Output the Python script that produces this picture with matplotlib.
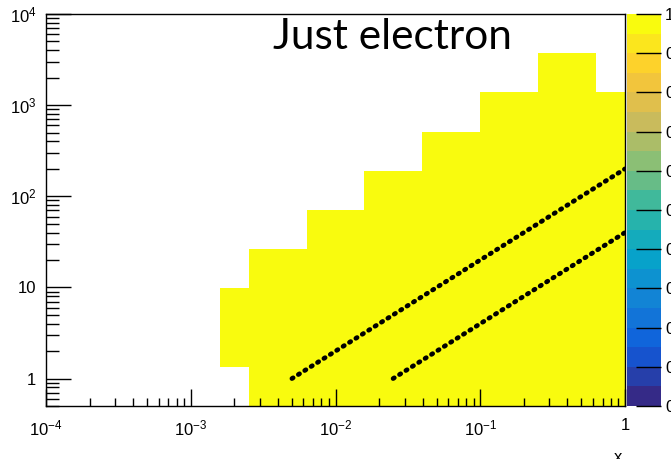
import numpy as np
import matplotlib
matplotlib.use("Agg")
import matplotlib.pyplot as plt
from matplotlib.colors import LinearSegmentedColormap, ListedColormap

plt.rcParams['font.family'] = ['Liberation Sans', 'DejaVu Sans']
plt.rcParams['mathtext.fontset'] = 'custom'
plt.rcParams['mathtext.rm'] = 'Liberation Sans'
plt.rcParams['mathtext.it'] = 'Liberation Sans'

# histogram binning: 20 log bins in x, 10 log bins in y
x_edges = np.logspace(-4, 0, 21)
y_edges = np.logspace(np.log10(0.5), 4, 11)

# filled cells per x bin: first and last y bin (inclusive)
col_bins = [6, 7, 8, 9, 10, 11, 12, 13, 14, 15, 16, 17, 18, 19]
col_lo = [1, 0, 0, 0, 0, 0, 0, 0, 0, 0, 0, 0, 0, 0]
col_hi = [2, 3, 3, 4, 4, 5, 5, 6, 6, 7, 7, 8, 8, 7]
cell_val = 1.0

# the two reference lines (y = 200x and y = 40x)
line_a_x = [5e-3, 1.0]
line_a_y = [1.0, 200.0]
line_b_x = [2.5e-2, 1.0]
line_b_y = [1.0, 40.0]

x_ticks = [1e-4, 1e-3, 1e-2, 1e-1, 1]
x_labels = [r'$\mathregular{10^{-4}}$', r'$\mathregular{10^{-3}}$', r'$\mathregular{10^{-2}}$',
            r'$\mathregular{10^{-1}}$', '1']
y_ticks = [1, 10, 100, 1000, 10000]
y_labels = ['1', '10', r'$\mathregular{10^{2}}$', r'$\mathregular{10^{3}}$', r'$\mathregular{10^{4}}$']
z_ticks = [0, 0.1, 0.2, 0.3, 0.4, 0.5, 0.6, 0.7, 0.8, 0.9, 1]
z_labels = ['0', '0.1', '0.2', '0.3', '0.4', '0.5', '0.6', '0.7', '0.8', '0.9', '1']

# ROOT kBird palette, cut into 20 contour bands
stops = [0.0, 0.125, 0.25, 0.375, 0.5, 0.625, 0.75, 0.875, 1.0]
red = [0.2082, 0.0592, 0.0780, 0.0232, 0.1802, 0.5301, 0.8186, 0.9956, 0.9764]
green = [0.1664, 0.3599, 0.5041, 0.6419, 0.7178, 0.7492, 0.7328, 0.7862, 0.9832]
blue = [0.5293, 0.8684, 0.8385, 0.7914, 0.6425, 0.4662, 0.3499, 0.1968, 0.0539]
bird = LinearSegmentedColormap.from_list(
    'bird', [(s, (r, g, b)) for s, r, g, b in zip(stops, red, green, blue)])
bands = ListedColormap([bird(i / 19.0) for i in range(20)])

z = np.zeros((len(y_edges) - 1, len(x_edges) - 1))
for b, lo, hi in zip(col_bins, col_lo, col_hi):
    z[lo:hi + 1, b] = cell_val
z = np.ma.masked_equal(z, 0)

fig = plt.figure(figsize=(6.71, 4.59), dpi=100)
ax = fig.add_axes([46 / 671, 53 / 459, 579 / 671, 392 / 459])
cax = fig.add_axes([627 / 671, 53 / 459, 34 / 671, 392 / 459])

mesh = ax.pcolormesh(x_edges, y_edges, z, cmap=bands, vmin=0, vmax=1, linewidth=0)

dots = dict(color='black', lw=3.4, linestyle=(0, (0.3, 1.3)), dash_capstyle='round')
ax.plot(line_a_x, line_a_y, **dots)
ax.plot(line_b_x, line_b_y, **dots)

ax.set_xscale('log')
ax.set_yscale('log')
ax.set_xlim(1e-4, 1)
ax.set_ylim(0.5, 1e4)
ax.set_xticks(x_ticks)
ax.set_xticklabels(x_labels)
ax.set_yticks(y_ticks)
ax.set_yticklabels(y_labels)
ax.tick_params(which='both', direction='in', top=False, right=False, labelsize=12, width=1)
ax.tick_params(axis='x', which='major', length=12, pad=9)
ax.tick_params(axis='x', which='minor', length=6)
ax.tick_params(axis='y', which='major', length=18, pad=7)
ax.tick_params(axis='y', which='minor', length=9)
for s in ax.spines.values():
    s.set_linewidth(1.0)

cb = fig.colorbar(mesh, cax=cax, ticks=z_ticks)
cb.outline.set_visible(False)
cax.set_yticklabels(z_labels)
cax.tick_params(direction='in', length=18, width=1, labelsize=12, pad=3, colors='black')

ax.text(0.392, 0.99, 'Just electron', transform=ax.transAxes, fontsize=30.5,
        family=['Lato', 'DejaVu Sans'], va='top', ha='left')
fig.text(622 / 671, 9 / 459, 'x', fontsize=12, ha='right', va='top')

fig.savefig('out.png', dpi=100)
